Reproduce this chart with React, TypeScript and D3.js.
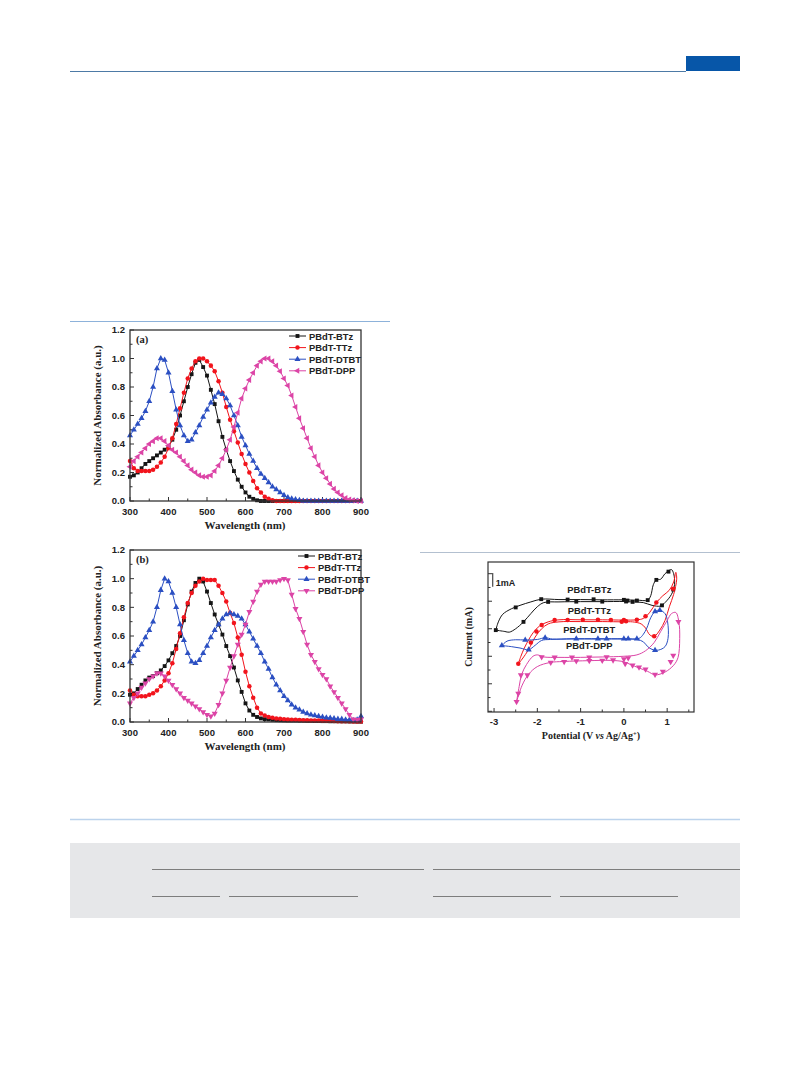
import React from 'react';
import * as d3 from 'd3';

// ---- absorbance spectra (normalized), sampled every 10 nm from 300 to 900 nm
const WAVELENGTH = d3.range(300, 901, 10);
const SERIES_NAMES = ['PBdT-BTz', 'PBdT-TTz', 'PBdT-DTBT', 'PBdT-DPP'];
const SERIES_COLORS = ['#151515', '#f2141c', '#2b4fc2', '#dc44a6'];

// film (a)
const A_BTZ = [0.17, 0.18, 0.2, 0.23, 0.26, 0.28, 0.3, 0.32, 0.34, 0.36, 0.38, 0.43, 0.5, 0.6, 0.7, 0.8, 0.89, 0.97, 0.99, 0.94,
  0.88, 0.78, 0.68, 0.56, 0.45, 0.36, 0.28, 0.21, 0.15, 0.1, 0.06, 0.03, 0.015, 0.005, 0, 0, 0, 0, 0, 0,
  0, 0, 0, 0, 0, 0, 0, 0, 0, 0, 0, 0, 0, 0, 0, 0, 0, 0, 0, 0, 0];
const A_TTZ = [0.28, 0.23, 0.21, 0.21, 0.21, 0.21, 0.22, 0.24, 0.27, 0.31, 0.37, 0.44, 0.54, 0.65, 0.76, 0.86, 0.93, 0.98, 1.0, 1.0,
  0.98, 0.95, 0.91, 0.84, 0.76, 0.66, 0.57, 0.49, 0.41, 0.33, 0.26, 0.2, 0.14, 0.09, 0.06, 0.03, 0.015, 0.005, 0, 0,
  0, 0, 0, 0, 0, 0, 0, 0, 0, 0, 0, 0, 0, 0, 0, 0, 0, 0, 0, 0, 0];
const A_DTBT = [0.46, 0.5, 0.54, 0.58, 0.63, 0.7, 0.8, 0.93, 1.0, 0.99, 0.9, 0.77, 0.64, 0.53, 0.46, 0.42, 0.43, 0.48, 0.53, 0.59,
  0.64, 0.69, 0.73, 0.76, 0.75, 0.72, 0.67, 0.6, 0.53, 0.45, 0.39, 0.33, 0.28, 0.23, 0.19, 0.16, 0.13, 0.1, 0.08, 0.06,
  0.04, 0.025, 0.015, 0.01, 0.005, 0, 0, 0, 0, 0, 0, 0, 0, 0, 0, 0, 0, 0, 0, 0, 0];
const A_DPP = [0.24, 0.28, 0.31, 0.34, 0.37, 0.4, 0.42, 0.44, 0.44, 0.42, 0.39, 0.36, 0.34, 0.31, 0.28, 0.25, 0.22, 0.2, 0.18, 0.17,
  0.17, 0.18, 0.21, 0.25, 0.3, 0.36, 0.43, 0.52, 0.62, 0.72, 0.79, 0.85, 0.9, 0.95, 0.98, 1.0, 1.0, 0.98, 0.95, 0.91,
  0.86, 0.81, 0.74, 0.66, 0.58, 0.51, 0.44, 0.37, 0.31, 0.25, 0.2, 0.16, 0.12, 0.085, 0.06, 0.04, 0.02, 0.01, 0.005, 0, 0];

// film (b)
const B_BTZ = [0.19, 0.2, 0.23, 0.26, 0.29, 0.31, 0.32, 0.34, 0.36, 0.39, 0.43, 0.48, 0.53, 0.6, 0.71, 0.82, 0.91, 0.97, 1.0, 0.98,
  0.91, 0.83, 0.75, 0.68, 0.61, 0.53, 0.46, 0.38, 0.29, 0.21, 0.13, 0.08, 0.05, 0.035, 0.025, 0.02, 0.018, 0.015, 0.013, 0.012,
  0.011, 0.01, 0.01, 0.01, 0.009, 0.009, 0.008, 0.008, 0.007, 0.007, 0.006, 0.006, 0.005, 0.005, 0.005, 0.004, 0.004, 0.003, 0.003, 0.002, 0.002];
const B_TTZ = [0.22, 0.19, 0.18, 0.18, 0.18, 0.19, 0.2, 0.22, 0.25, 0.29, 0.34, 0.41, 0.51, 0.62, 0.73, 0.83, 0.9, 0.95, 0.98, 1.0,
  0.99, 0.99, 0.99, 0.95, 0.9, 0.84, 0.76, 0.69, 0.59, 0.47, 0.35, 0.25, 0.17, 0.1, 0.06, 0.045, 0.035, 0.03, 0.025, 0.022,
  0.02, 0.018, 0.016, 0.015, 0.014, 0.013, 0.012, 0.011, 0.01, 0.01, 0.009, 0.008, 0.008, 0.007, 0.006, 0.006, 0.005, 0.005, 0.004, 0.004, 0.003];
const B_DTBT = [0.42, 0.46, 0.5, 0.54, 0.59, 0.64, 0.7, 0.8, 0.92, 1.0, 0.98, 0.9, 0.8, 0.68, 0.57, 0.48, 0.42, 0.41, 0.43, 0.48,
  0.53, 0.59, 0.64, 0.68, 0.72, 0.75, 0.76, 0.75, 0.74, 0.72, 0.68, 0.63, 0.58, 0.53, 0.48, 0.42, 0.37, 0.31, 0.26, 0.22,
  0.18, 0.15, 0.12, 0.1, 0.085, 0.07, 0.06, 0.05, 0.045, 0.04, 0.035, 0.03, 0.028, 0.025, 0.02, 0.02, 0.015, 0.015, 0.01, 0.015, 0.04];
const B_DPP = [0.13, 0.17, 0.2, 0.24, 0.27, 0.3, 0.32, 0.34, 0.34, 0.32, 0.29, 0.26, 0.23, 0.2, 0.17, 0.15, 0.13, 0.11, 0.09, 0.07,
  0.05, 0.04, 0.06, 0.12, 0.2, 0.29, 0.38, 0.46, 0.54, 0.61, 0.68, 0.77, 0.84, 0.91, 0.96, 0.98, 0.98, 0.98, 0.98, 0.99,
  1.0, 0.99, 0.89, 0.79, 0.72, 0.63, 0.54, 0.47, 0.42, 0.37, 0.33, 0.3, 0.25, 0.21, 0.17, 0.13, 0.09, 0.05, 0.02, 0.015, 0.02];

const ABS_Y_TICKS = ['0.0', '0.2', '0.4', '0.6', '0.8', '1.0', '1.2'];

// ---- cyclic voltammograms: [potential V, current mA] along each loop
const CV_BTZ_LOOP = [[-2.96, -0.1], [-2.9, 0.5], [-2.8, 1.05], [-2.6, 1.45], [-2.4, 1.7], [-2.15, 1.95], [-1.9, 2.15], [-1.5, 2.12],
  [-1, 2.12], [-0.5, 2.1], [0, 2.1], [0.3, 2.08], [0.55, 2.08], [0.62, 2.4], [0.68, 3.2], [0.75, 3.55], [0.85, 3.6], [0.95, 4.0],
  [1.05, 4.25], [1.1, 4.3], [1.15, 4.0], [1.17, 3.2], [1.1, 2.5], [0.95, 1.9], [0.85, 1.65], [0.65, 1.7], [0.45, 1.9], [0.2, 1.95],
  [0, 1.98], [-0.5, 1.97], [-1, 1.97], [-1.5, 1.95], [-1.85, 1.9], [-2.0, 1.6], [-2.15, 1.1], [-2.32, 0.5], [-2.5, 0.0],
  [-2.65, -0.25], [-2.75, -0.2], [-2.96, -0.1]];
const CV_BTZ_MARKS = [[-2.96, -0.1], [-2.5, 1.55], [-1.91, 2.15], [-1.3, 2.12], [-0.7, 2.14], [0, 2.1], [0.08, 2.05], [0.3, 2.05],
  [0.55, 2.08], [0.75, 3.55], [1.03, 4.15], [1.14, 2.85], [0.88, 1.7], [-2.32, 0.5], [-1.75, 1.95], [-1.1, 1.97], [-0.5, 1.97],
  [0.05, 1.98], [0.2, 1.95]];

const CV_TTZ_LOOP = [[-2.44, -2.55], [-2.38, -2.0], [-2.3, -1.4], [-2.2, -0.8], [-2.1, -0.3], [-1.95, 0.2], [-1.75, 0.5], [-1.5, 0.65],
  [-1, 0.65], [-0.5, 0.65], [0, 0.63], [0.3, 0.65], [0.45, 0.75], [0.6, 1.2], [0.75, 1.9], [0.9, 2.4], [1.05, 2.8], [1.15, 3.4],
  [1.2, 4.1], [1.22, 3.6], [1.15, 2.5], [1.05, 1.6], [0.95, 0.6], [0.83, -0.1], [0.7, -0.55], [0.6, -0.45], [0.5, 0.05],
  [0.4, 0.35], [0.2, 0.5], [0, 0.5], [-0.5, 0.52], [-1, 0.52], [-1.5, 0.5], [-1.75, 0.35], [-1.9, 0.0], [-2.05, -0.6],
  [-2.2, -1.5], [-2.35, -2.2], [-2.44, -2.55]];
const CV_TTZ_MARKS = [[-2.44, -2.55], [-2.15, -1.0], [-2.02, -0.2], [-1.9, 0.28], [-1.6, 0.63], [-1.3, 0.64], [-0.95, 0.65],
  [-0.6, 0.65], [-0.3, 0.64], [0, 0.63], [0.05, 0.55], [0.3, 0.65], [0.5, 0.9], [0.75, 1.9], [1.14, 2.9], [0.7, -0.55], [-0.05, 0.5]];

const CV_DTBT_LOOP = [[-2.82, -1.22], [-2.7, -0.9], [-2.5, -0.8], [-2.28, -0.82], [-2.0, -0.78], [-1.82, -0.65], [-1.65, -0.75],
  [-1.2, -0.72], [-0.6, -0.72], [0, -0.72], [0.35, -0.7], [0.45, -0.4], [0.53, 0.05], [0.62, 0.8], [0.72, 1.25], [0.83, 1.35],
  [0.95, 1.1], [1.01, 0.5], [1.02, -0.7], [0.95, -1.3], [0.8, -1.55], [0.65, -1.5], [0.55, -1.3], [0.45, -0.95], [0.3, -0.78],
  [0, -0.75], [-0.6, -0.75], [-1.2, -0.75], [-1.7, -0.78], [-1.9, -0.85], [-2.05, -1.2], [-2.2, -1.52], [-2.4, -1.4],
  [-2.6, -1.3], [-2.82, -1.22]];
const CV_DTBT_MARKS = [[-2.82, -1.22], [-2.28, -0.82], [-2.2, -1.52], [-1.82, -0.65], [-1.1, -0.72], [-0.6, -0.72], [-0.4, -0.73],
  [0, -0.72], [0.1, -0.72], [0.3, -0.72], [0.72, 1.25], [0.83, 1.35], [0.72, -1.56]];

const CV_DPP_LOOP = [[-2.48, -5.3], [-2.42, -4.2], [-2.36, -3.3], [-2.25, -2.6], [-2.1, -2.0], [-2.0, -1.9], [-1.85, -2.05],
  [-1.5, -2.08], [-1, -2.08], [-0.5, -2.05], [0, -2.0], [0.3, -1.9], [0.5, -1.6], [0.7, -1.0], [0.85, -0.2], [1.0, 0.6],
  [1.1, 1.1], [1.2, 1.18], [1.27, 0.5], [1.29, -0.7], [1.25, -2.1], [1.15, -2.65], [0.95, -3.15], [0.72, -3.35], [0.55, -3.1],
  [0.35, -2.85], [0.15, -2.6], [0, -2.4], [-0.3, -2.3], [-0.8, -2.32], [-1.4, -2.38], [-1.7, -2.45], [-2.0, -2.75],
  [-2.2, -3.3], [-2.35, -4.1], [-2.48, -5.3]];
const CV_DPP_MARKS = [[-2.48, -5.3], [-2.44, -4.7], [-2.38, -3.37], [-2.23, -3.37], [-1.9, -2.05], [-1.69, -2.45], [-1.38, -2.4],
  [-1.1, -2.35], [-0.8, -2.32], [-0.5, -2.3], [-0.25, -2.28], [0, -2.2], [0.1, -2.12], [-1.6, -2.08], [-1.2, -2.08],
  [-0.8, -2.08], [-0.4, -2.05], [0.03, -2.55], [0.2, -2.65], [0.35, -2.8], [0.5, -2.95], [0.72, -3.33], [0.9, -3.1],
  [1.08, -2.4], [1.14, -1.94], [1.26, 0.5]];

const CV_X_TICKS = [-3, -2, -1, 0, 1];

const sans = '"Liberation Sans", Arial, sans-serif';
const serif = '"Liberation Serif", "Times New Roman", serif';

type Shape = 'square' | 'circle' | 'up' | 'down' | 'left';

const symbolPath = (shape: Shape) => {
  if (shape === 'square') return d3.symbol().type(d3.symbolSquare).size(15)() as string;
  if (shape === 'circle') return d3.symbol().type(d3.symbolCircle).size(16)() as string;
  return d3.symbol().type(d3.symbolTriangle).size(16)() as string;
};
const symbolRotate = (shape: Shape) => (shape === 'down' ? 180 : shape === 'left' ? -90 : 0);

const Marker = ({ x, y, shape, color }: { x: number; y: number; shape: Shape; color: string }) => (
  <path d={symbolPath(shape)} transform={`translate(${x},${y}) rotate(${symbolRotate(shape)})`} fill={color} />
);

interface AbsProps {
  top: number;
  bottom: number;
  tag: string;
  data: number[][];
  dppShape: Shape;
  legendX: number;
}

const AbsorbancePanel = ({ top, bottom, tag, data, dppShape, legendX }: AbsProps) => {
  const x = d3.scaleLinear().domain([300, 900]).range([130, 361]);
  const y = d3.scaleLinear().domain([0, 1.2]).range([bottom, top]);
  const shapes: Shape[] = ['square', 'circle', 'up', dppShape];
  const line = d3.line<number>().x((_, i) => x(WAVELENGTH[i])).y((d) => y(d));
  const axisColor = '#333';

  return (
    <g>
      {/* minor + major ticks, pointing inward */}
      {x.ticks(12).map((t) => (
        <line key={'xt' + t} x1={x(t)} x2={x(t)} y1={bottom} y2={bottom - (t % 100 === 0 ? 4 : 2.5)} stroke={axisColor} strokeWidth={1} />
      ))}
      {y.ticks(12).map((t, i) => (
        <line key={'yt' + t} x1={130} x2={130 + (i % 2 === 0 ? 4 : 2.5)} y1={y(t)} y2={y(t)} stroke={axisColor} strokeWidth={1} />
      ))}
      {x.ticks(6).map((t) => (
        <text key={'xl' + t} x={x(t)} y={bottom + 14} textAnchor="middle" fontFamily={sans} fontWeight="bold" fontSize={9.5} fill="#222">{t}</text>
      ))}
      {y.ticks(6).map((t, i) => (
        <text key={'yl' + t} x={125} y={y(t) + 3.4} textAnchor="end" fontFamily={sans} fontWeight="bold" fontSize={9.5} fill="#222">{ABS_Y_TICKS[i]}</text>
      ))}
      <text x={245} y={bottom + 28} textAnchor="middle" fontFamily={serif} fontWeight="bold" fontSize={11} fill="#222">Wavelength (nm)</text>
      <text transform={`translate(101,${(top + bottom) / 2}) rotate(-90)`} textAnchor="middle" fontFamily={serif} fontWeight="bold" fontSize={11} fill="#222">
        Normalized Absorbance (a.u.)
      </text>

      {data.map((vals, s) => (
        <g key={SERIES_NAMES[s]}>
          <path d={line(vals) as string} fill="none" stroke={SERIES_COLORS[s]} strokeWidth={1} />
          {vals.map((v, i) => (
            <Marker key={i} x={x(WAVELENGTH[i])} y={y(v)} shape={shapes[s]} color={SERIES_COLORS[s]} />
          ))}
        </g>
      ))}

      <rect x={130} y={top} width={231} height={bottom - top} fill="none" stroke={axisColor} strokeWidth={1.3} />
      <text x={136} y={top + 13} fontFamily={serif} fontWeight="bold" fontSize={10.5} fill="#222">{tag}</text>

      {SERIES_NAMES.map((name, s) => {
        const ly = top + 6 + s * 11.6;
        return (
          <g key={'lg' + name}>
            <line x1={legendX} x2={legendX + 17} y1={ly} y2={ly} stroke={SERIES_COLORS[s]} strokeWidth={1} />
            <Marker x={legendX + 8.5} y={ly} shape={shapes[s]} color={SERIES_COLORS[s]} />
            <text x={legendX + 20} y={ly + 3.5} fontFamily={sans} fontWeight="bold" fontSize={9.4} fill="#222">{name}</text>
          </g>
        );
      })}
    </g>
  );
};

const CVPanel = () => {
  const left = 488, right = 694, top = 562, bottom = 712;
  const x = d3.scaleLinear().domain([-3.14, 1.62]).range([left, right]);
  const y = d3.scaleLinear().domain([-6.05, 4.85]).range([bottom, top]);
  const line = d3.line<number[]>().x((d) => x(d[0])).y((d) => y(d[1])).curve(d3.curveCatmullRom.alpha(0.5));
  const loops = [CV_BTZ_LOOP, CV_TTZ_LOOP, CV_DTBT_LOOP, CV_DPP_LOOP];
  const marks = [CV_BTZ_MARKS, CV_TTZ_MARKS, CV_DTBT_MARKS, CV_DPP_MARKS];
  const shapes: Shape[] = ['square', 'circle', 'up', 'down'];
  const labelY = [2.6, 1.1, -0.3, -1.5];
  const axisColor = '#333';
  const xMinor = d3.range(-3, 1.6, 0.5);
  const yMinor = d3.range(-6, 5, 1);

  return (
    <g>
      {xMinor.map((t) => (
        <line key={'cx' + t} x1={x(t)} x2={x(t)} y1={bottom} y2={bottom - (Number.isInteger(t) ? 4 : 2.5)} stroke={axisColor} />
      ))}
      {yMinor.map((t) => (
        <line key={'cy' + t} x1={left} x2={left + (t % 2 === 0 ? 4 : 2.5)} y1={y(t)} y2={y(t)} stroke={axisColor} />
      ))}
      {CV_X_TICKS.map((t) => (
        <text key={'cl' + t} x={x(t)} y={bottom + 13} textAnchor="middle" fontFamily={sans} fontWeight="bold" fontSize={9.5} fill="#222">
          {t}
        </text>
      ))}
      <text x={(left + right) / 2} y={bottom + 27} textAnchor="middle" fontFamily={serif} fontWeight="bold" fontSize={10} fill="#222">
        Potential (V <tspan fontStyle="italic">vs</tspan> Ag/Ag<tspan dy={-3.5} fontSize={6.5}>+</tspan><tspan dy={3.5}>)</tspan>
      </text>
      <text transform={`translate(472,${(top + bottom) / 2}) rotate(-90)`} textAnchor="middle" fontFamily={serif} fontWeight="bold" fontSize={10} fill="#222">
        Current (mA)
      </text>

      {loops.map((pts, s) => (
        <g key={'loop' + s}>
          <path d={line(pts) as string} fill="none" stroke={SERIES_COLORS[s]} strokeWidth={1} />
          {marks[s].map((p, i) => (
            <Marker key={i} x={x(p[0])} y={y(p[1])} shape={shapes[s]} color={SERIES_COLORS[s]} />
          ))}
          <text x={x(-0.8)} y={y(labelY[s])} textAnchor="middle" fontFamily={sans} fontWeight="bold" fontSize={9.4} fill="#222">
            {SERIES_NAMES[s]}
          </text>
        </g>
      ))}

      <line x1={x(-3.03)} x2={x(-3.03)} y1={y(4.05)} y2={y(3.05)} stroke="#222" strokeWidth={1} />
      <text x={x(-3.03) + 3} y={y(3.12)} fontFamily={sans} fontWeight="bold" fontSize={9} fill="#222">1mA</text>

      <rect x={left} y={top} width={right - left} height={bottom - top} fill="none" stroke={axisColor} strokeWidth={1.2} />
    </g>
  );
};

export default function App() {
  return (
    <svg width={809} height={1067} viewBox="0 0 809 1067" style={{ position: 'absolute', left: 0, top: 0, background: '#fff' }}>
      {/* page furniture */}
      <rect x={686} y={56} width={54} height={15} fill="#0756a8" />
      <line x1={70} x2={686} y1={71.5} y2={71.5} stroke="#4d7aa6" strokeWidth={1.2} />
      <line x1={70} x2={390} y1={321.5} y2={321.5} stroke="#8db2da" strokeWidth={1} />
      <line x1={420} x2={740} y1={552.5} y2={552.5} stroke="#9fb0c4" strokeWidth={0.8} />
      <line x1={70} x2={740} y1={819.5} y2={819.5} stroke="#bcd3ec" strokeWidth={1.5} />
      <rect x={70} y={843} width={670} height={75} fill="#e6e7e9" />
      <line x1={152} x2={424} y1={869.5} y2={869.5} stroke="#7d7d7d" strokeWidth={1} />
      <line x1={433} x2={740} y1={869.5} y2={869.5} stroke="#7d7d7d" strokeWidth={1} />
      <line x1={152} x2={220} y1={896.5} y2={896.5} stroke="#7d7d7d" strokeWidth={1} />
      <line x1={229} x2={358} y1={896.5} y2={896.5} stroke="#7d7d7d" strokeWidth={1} />
      <line x1={433} x2={551} y1={896.5} y2={896.5} stroke="#7d7d7d" strokeWidth={1} />
      <line x1={560} x2={678} y1={896.5} y2={896.5} stroke="#7d7d7d" strokeWidth={1} />

      <AbsorbancePanel top={330} bottom={501} tag="(a)" data={[A_BTZ, A_TTZ, A_DTBT, A_DPP]} dppShape="left" legendX={289} />
      <AbsorbancePanel top={550} bottom={722} tag="(b)" data={[B_BTZ, B_TTZ, B_DTBT, B_DPP]} dppShape="down" legendX={298} />
      <CVPanel />
    </svg>
  );
}
